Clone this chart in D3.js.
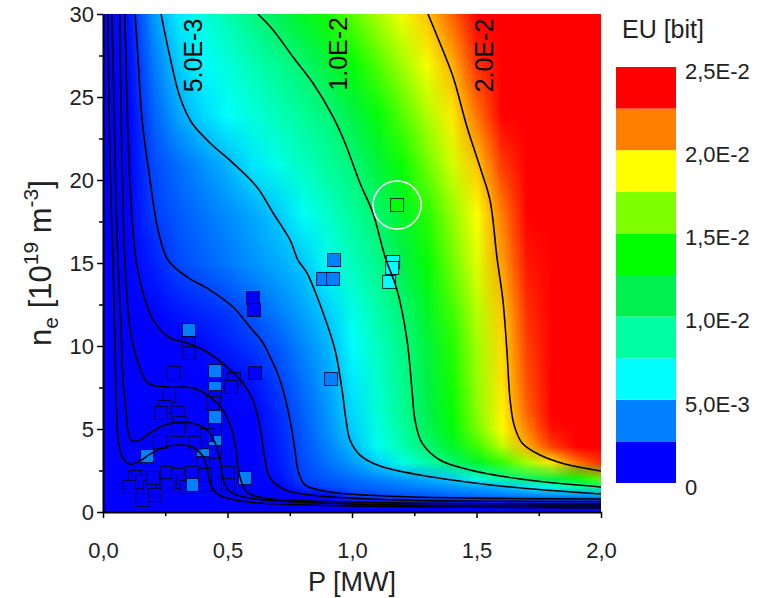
<!DOCTYPE html>
<html>
<head>
<meta charset="utf-8">
<script src="https://cdn.jsdelivr.net/npm/d3@7"></script>
<style>
  html, body { margin: 0; padding: 0; background: #fff; }
  svg { display: block; font-family: Arial, "Liberation Sans", sans-serif; }
</style>
</head>
<body>
<svg id="chart" width="759" height="598"></svg>
<script>
// ---- data ----

// EU map grid: P [MW] columns, ne [1e19 m^-3] rows (bottom to top)
var gridP = [0, 0.1, 0.2, 0.3, 0.4, 0.5, 0.6, 0.7, 0.8, 0.9, 1.0, 1.1, 1.2, 1.3, 1.4, 1.5, 1.6, 1.7, 1.8, 1.9, 2.0];
var gridNe = [0, 0.5, 1, 1.5, 2, 3, 4, 5, 6, 8, 10, 12, 15, 18, 21, 24, 27, 30];
// EU in units of 1e-3 bit, one row per gridNe value
var euGrid = [
  [0, 0, 0, 0, 0, 0, 0, 0, 0, 0, 0, 0, 0, 0, 0, 0, 0, 0, 0, 0, 0],
  [0, .03, .05, .06, .08, .1, .12, .14, .16, .19, .22, .25, .28, .31, .34, .37, .41, .45, .5, .55, .6],
  [0, .05, .06, .08, .1, .2, .56, .8, 1.05, 1.38, 2.4, 2.69, 2.9, 3.1, 3.3, 3.5, 3.7, 3.9, 4.1, 4.3, 4.6],
  [0, .06, .08, .1, .12, .31, .7, 1.17, 2.1, 2.69, 3.0, 3.3, 3.6, 3.9, 4.2, 4.5, 4.85, 5.7, 7.1, 8.6, 10.0],
  [0, .08, .09, .1, .13, .35, .75, 1.52, 2.5, 2.93, 3.35, 3.78, 4.2, 4.63, 5.25, 7.0, 8.8, 10.5, 11.8, 13.5, 15.5],
  [0, .13, .12, .12, .145, .45, .9, 1.72, 2.7, 3.5, 4.3, 5.3, 7.0, 8.6, 10.4, 12.6, 14.8, 17.0, 19.3, 21.5, 23.0],
  [0, .2, .22, .23, .28, .43, .9, 1.82, 2.84, 3.8, 4.9, 6.6, 8.4, 10.2, 12.4, 14.9, 17.4, 20.3, 22.5, 24.0, 25.0],
  [0, .3, .35, .4, .45, .57, 1.0, 1.93, 2.99, 4.08, 5.3, 7.05, 8.8, 10.9, 13.5, 16.0, 18.8, 21.2, 23.5, 25.0, 26.0],
  [0, .32, .4, .45, .52, .67, 1.16, 2.07, 3.12, 4.2, 5.5, 7.3, 9.1, 11.3, 13.8, 16.4, 19.0, 21.8, 24.0, 25.5, 26.5],
  [0, .36, .65, .85, 1.0, 1.15, 1.66, 2.47, 3.47, 4.47, 5.84, 7.6, 9.35, 11.6, 14.1, 16.7, 19.3, 22.2, 24.3, 25.8, 27.0],
  [0, .44, .8, 1.08, 1.4, 1.84, 2.28, 2.96, 3.87, 4.78, 6.3, 7.9, 9.6, 11.9, 14.4, 16.9, 19.5, 22.5, 24.5, 26.0, 27.0],
  [0, .58, 1.29, 1.6, 1.95, 2.3, 2.92, 3.65, 4.4, 5.25, 6.8, 8.4, 10.0, 12.5, 14.9, 17.3, 19.8, 22.8, 24.8, 26.0, 27.0],
  [0, .74, 1.84, 2.64, 3.1, 3.6, 4.1, 4.57, 5.1, 6.6, 8.0, 9.4, 11.4, 13.6, 15.9, 18.1, 20.6, 23.3, 25.0, 26.5, 27.5],
  [0, 1.0, 2.4, 2.98, 3.5, 4.0, 4.55, 5.2, 6.46, 7.7, 8.95, 10.3, 12.4, 14.5, 16.6, 18.7, 21.3, 23.8, 25.5, 27.0, 28.0],
  [0, 1.1, 2.65, 3.4, 4.1, 4.84, 5.8, 6.85, 7.9, 8.9, 10.0, 11.9, 13.9, 15.9, 17.9, 19.9, 22.6, 24.8, 26.3, 27.5, 28.5],
  [0, 1.25, 3.1, 4.5, 5.5, 6.4, 7.2, 8.1, 9.0, 9.9, 11.6, 13.5, 15.4, 17.2, 19.1, 21.5, 23.8, 25.5, 27.0, 28.0, 29.0],
  [0, 1.45, 3.6, 5.2, 6.2, 7.2, 8.2, 9.2, 10.3, 11.9, 13.6, 15.3, 16.9, 18.6, 20.3, 22.8, 24.8, 26.3, 27.5, 28.5, 29.5],
  [0, 1.6, 4.2, 5.9, 7.1, 8.4, 9.7, 11.1, 12.6, 14.1, 15.5, 17.0, 18.5, 19.9, 21.8, 24.0, 25.8, 27.0, 28.0, 29.0, 30.0]
];

// contour lines, [P, ne] pairs
var contour20e3 = [[1.305,30],[1.353,28.25],[1.406,26.2],[1.462,23.19],[1.514,20.78],[1.554,18.8],[1.582,15.36],[1.606,12.77],[1.622,9.76],[1.635,6.75],[1.651,5.24],[1.683,4.16],[1.755,3.43],[1.855,2.89],[2.0,2.47]];
var contour10e3 = [[.622,30],[.683,29.04],[.763,27.41],[.843,25.84],[.924,23.8],[.972,22.23],[1.032,19.82],[1.084,18.01],[1.133,15.36],[1.181,13.37],[1.221,10.36],[1.241,7.35],[1.253,5.54],[1.281,4.16],[1.353,3.13],[1.474,2.53],[1.675,1.99],[2.0,1.51]];
var contour5e3 = [[.233,30],[.269,27.41],[.309,25.0],[.357,23.43],[.43,22.23],[.522,21.02],[.618,19.58],[.683,18.01],[.751,16.39],[.783,15.18],[.819,14.4],[.884,11.99],[.932,9.76],[.96,7.35],[.976,5.54],[.992,4.34],[1.032,3.43],[1.112,2.77],[1.273,2.23],[1.594,1.57],[2.0,1.08]];
var contour25e4 = [[.129,30],[.141,27.23],[.157,23.61],[.189,20.0],[.221,16.99],[.261,15.18],[.337,14.16],[.43,13.37],[.522,12.35],[.59,11.14],[.643,10.18],[.671,9.34],[.699,8.43],[.723,7.35],[.751,5.54],[.771,3.73],[.783,2.53],[.811,1.63],[.912,1.2],[1.193,.93],[1.594,.82],[2.0,.78]];
var contour12e4 = [[.088,30],[.096,24.82],[.108,20.0],[.12,16.99],[.133,15.18],[.161,13.19],[.201,11.57],[.269,10.48],[.337,10.18],[.418,9.64],[.498,8.73],[.562,7.77],[.602,6.75],[.622,5.72],[.639,4.34],[.651,3.13],[.671,2.05],[.731,1.33],[.871,.96],[1.193,.72],[2.0,.63]];
var contour6e4 = [[.068,30],[.072,24.82],[.08,18.8],[.088,15.18],[.108,11.14],[.137,9.16],[.181,7.77],[.257,7.53],[.361,7.47],[.43,6.93],[.482,6.14],[.518,4.94],[.534,3.73],[.55,2.11],[.578,1.2],[.651,.84],[.992,.6],[2.0,.48]];
var contour3e4 = [[.036,30],[.044,24.82],[.052,18.8],[.06,15.18],[.072,11.14],[.08,8.13],[.092,6.14],[.1,4.94],[.116,4.28],[.149,4.34],[.189,4.76],[.249,5.24],[.309,5.42],[.369,5.3],[.418,4.94],[.45,4.16],[.47,3.13],[.482,2.05],[.502,1.33],[.55,.96],[.651,.72],[.992,.48],[2.0,.36]];
var contour15e5 = [[.02,30],[.024,24.82],[.032,18.8],[.04,15.18],[.048,10.18],[.056,5.54],[.064,4.04],[.08,3.25],[.108,2.89],[.149,3.07],[.189,3.49],[.249,3.92],[.309,4.04],[.357,3.92],[.398,3.43],[.418,2.65],[.43,1.81],[.45,1.2],[.51,.78],[.631,.54],[.992,.36],[2.0,.24]];

// labels written on the contours
var contourLabels = ['5.0E-3', '1.0E-2', '2.0E-2'];
var contourLabelP = [0.361, 0.944, 1.530];
var contourLabelNe = [27.5, 27.6, 27.5];

// measured shots: P, ne and their EU (1e-3 bit)
var shotP = [.928,.884,.924,.602,.606,.610,.916,1.165,1.161,1.149,1.181,.345,.345,.345,.285,.450,.450,.450,.450,.526,.514,.265,.249,.301,.233,.442,.450,.450,.450,.402,.402,.177,.309,.301,.229,.369,.418,.129,.108,.157,.189,.201,.257,.261,.301,.321,.337,.357,.361,.410,.410,.502,.502,.570,.157,.209];
var shotNe = [15.18,14.04,14.04,12.89,12.17,8.37,8.01,15.06,14.70,13.86,18.49,10.96,10.18,9.58,8.37,8.49,7.47,6.93,5.72,8.01,7.53,6.99,6.33,5.96,5.96,6.57,4.94,4.22,3.61,3.43,2.95,3.37,5.36,4.94,4.22,4.16,4.64,2.11,1.51,1.81,1.51,2.05,2.35,1.63,2.23,1.81,1.51,2.35,1.63,1.63,2.23,2.35,1.63,2.05,.72,1.02];
var shotEU = [4,4,4,1.5,1.5,1.5,4,6.5,6.5,6.5,13,4,1.5,1.5,1.5,4,4,1.5,4,1.5,1.5,1.5,1.5,1.5,1.5,1.5,1.5,4,1.5,4,1.5,4,1.5,1.5,1.5,1.5,1.5,1.5,1.5,1.5,1.5,1.5,1.5,1.5,1.5,1.5,1.5,1.5,4,1.5,1.5,1.5,1.5,4,1.5,1.5];
var circledShot = 10;

// colour scale bands
var bandEdges = [0, 0.0025, 0.005, 0.0075, 0.01, 0.0125, 0.015, 0.0175, 0.02, 0.0225, 0.025];
var bandColors = ['#0000ff', '#0080ff', '#00ffff', '#00ffa0', '#00f050', '#00ff00', '#80ff00', '#ffff00', '#ff8000', '#ff0000'];
var legendTicks = [0, 0.005, 0.01, 0.015, 0.02, 0.025];

var xTicks = [0, 0.5, 1.0, 1.5, 2.0];
var xMinor = [0.25, 0.75, 1.25, 1.75];
var yTicks = [0, 5, 10, 15, 20, 25, 30];
var yMinor = [2.5, 7.5, 12.5, 17.5, 22.5, 27.5];

// ---- layout ----
var margin = {left: 103, top: 14};
var W = 498, H = 498;

var svg = d3.select('#chart');
svg.append('rect').attr('width', 759).attr('height', 598).attr('fill', '#fff');

var x = d3.scaleLinear().domain([0, 2]).range([0, W]);
var y = d3.scaleLinear().domain([0, 30]).range([H, 0]);

var bandCenters = d3.pairs(bandEdges).map(function (e) { return (e[0] + e[1]) / 2; });
var heatColor = d3.scaleLinear().domain(bandCenters).range(bandColors).clamp(true);
var bandColor = d3.scaleThreshold().domain(bandEdges.slice(1, -1)).range(bandColors);

var g = svg.append('g').attr('transform', 'translate(' + margin.left + ',' + margin.top + ')');

svg.append('defs').append('clipPath').attr('id', 'plotClip')
  .append('rect').attr('width', W).attr('height', H);

// ---- EU map: one pixel per grid node, scaled up by the canvas ----
var src = document.createElement('canvas');
src.width = gridP.length;
src.height = gridNe.length;
var sctx = src.getContext('2d');
var img = sctx.createImageData(src.width, src.height);
euGrid.forEach(function (row, j) {
  var r = gridNe.length - 1 - j;
  row.forEach(function (v, i) {
    var c = d3.rgb(heatColor(v * 1e-3));
    var k = (r * src.width + i) * 4;
    img.data[k] = c.r; img.data[k + 1] = c.g; img.data[k + 2] = c.b; img.data[k + 3] = 255;
  });
});
sctx.putImageData(img, 0, 0);

var map = document.createElement('canvas');
map.width = W;
map.height = H;
var mctx = map.getContext('2d');
mctx.imageSmoothingEnabled = true;
var sx = W / (gridP.length - 1);
for (var j = 0; j < gridNe.length - 1; j++) {
  var yLo = Math.round(y(gridNe[j]));
  var yHi = Math.round(y(gridNe[j + 1]));
  var rowHi = gridNe.length - 2 - j;
  var sy = yLo - yHi;
  mctx.save();
  mctx.beginPath();
  mctx.rect(0, yHi, W, sy);
  mctx.clip();
  mctx.setTransform(sx, 0, 0, sy, -0.5 * sx, yHi - (rowHi + 0.5) * sy);
  mctx.drawImage(src, 0, 0);
  mctx.restore();
}

g.append('image')
  .attr('width', W).attr('height', H)
  .attr('preserveAspectRatio', 'none')
  .attr('href', map.toDataURL());

// ---- shots ----
var sq = 13;
var shots = d3.range(shotP.length);
g.append('g').attr('clip-path', 'url(#plotClip)')
  .selectAll('rect').data(shots).enter().append('rect')
  .attr('x', function (i) { return x(shotP[i]) - sq / 2; })
  .attr('y', function (i) { return y(shotNe[i]) - sq / 2; })
  .attr('width', sq).attr('height', sq)
  .attr('fill', function (i) { return bandColor(shotEU[i] * 1e-3); })
  .attr('stroke', '#000028').attr('stroke-opacity', 0.85).attr('stroke-width', 1);

// ---- contour lines ----
var line = d3.line()
  .x(function (d) { return x(d[0]); })
  .y(function (d) { return y(d[1]); })
  .curve(d3.curveCatmullRom.alpha(0.5));

var contours = [contour20e3, contour10e3, contour5e3, contour25e4, contour12e4, contour6e4, contour3e4, contour15e5];
g.append('g').attr('clip-path', 'url(#plotClip)')
  .selectAll('path').data(contours).enter().append('path')
  .attr('d', line)
  .attr('fill', 'none').attr('stroke', '#000').attr('stroke-width', 1.6);

g.selectAll('text.clabel').data(contourLabels).enter().append('text')
  .attr('class', 'clabel')
  .attr('transform', function (d, i) {
    return 'translate(' + x(contourLabelP[i]) + ',' + y(contourLabelNe[i]) + ') rotate(-90)';
  })
  .attr('text-anchor', 'middle').attr('dy', '0.36em')
  .attr('font-size', 25).attr('fill', '#000')
  .text(function (d) { return d; });

// circle round the marked shot
g.append('circle')
  .attr('cx', x(shotP[circledShot])).attr('cy', y(shotNe[circledShot]))
  .attr('r', 24).attr('fill', 'none').attr('stroke', '#fff').attr('stroke-width', 1.5);

// ---- axes ----
var comma = function (f) { return function (d) { return f(d).replace('.', ','); }; };

g.append('g').attr('transform', 'translate(0,' + H + ')')
  .call(d3.axisBottom(x).tickValues(xTicks).tickSize(6).tickSizeOuter(0).tickPadding(24)
    .tickFormat(comma(d3.format('.1f'))));
g.append('g').attr('transform', 'translate(0,' + H + ')')
  .call(d3.axisBottom(x).tickValues(xMinor).tickSize(4).tickSizeOuter(0).tickFormat(''))
  .select('.domain').remove();

g.append('g')
  .call(d3.axisLeft(y).tickValues(yTicks).tickSize(6).tickSizeOuter(0).tickPadding(3));
g.append('g')
  .call(d3.axisLeft(y).tickValues(yMinor).tickSize(4).tickSizeOuter(0).tickFormat(''))
  .select('.domain').remove();

svg.selectAll('.domain').attr('stroke', '#000').attr('stroke-width', 2);
svg.selectAll('.tick line').attr('stroke', '#000').attr('stroke-width', 1.5);
svg.selectAll('.tick text').attr('font-size', 22).attr('fill', '#222')
  .attr('font-family', 'Arial, "Liberation Sans", sans-serif');

// axis titles
svg.append('text')
  .attr('x', margin.left + W / 2).attr('y', 591)
  .attr('text-anchor', 'middle').attr('font-size', 27).attr('fill', '#222')
  .text('P [MW]');

var yTitle = svg.append('text')
  .attr('transform', 'translate(51,' + (margin.top + H / 2) + ') rotate(-90)')
  .attr('text-anchor', 'middle').attr('font-size', 31).attr('fill', '#222');
yTitle.append('tspan').text('n');
yTitle.append('tspan').attr('font-size', 21).attr('dy', 7).text('e');
yTitle.append('tspan').attr('dy', -7).text(' [10');
yTitle.append('tspan').attr('font-size', 21).attr('dy', -13).text('19');
yTitle.append('tspan').attr('dy', 13).text(' m');
yTitle.append('tspan').attr('font-size', 21).attr('dy', -13).text('-3');
yTitle.append('tspan').attr('dy', 13).text(']');

// ---- colour legend ----
var cb = {x: 616, w: 60, top: 67, bottom: 483};
var cbY = d3.scaleLinear().domain([0, 0.025]).range([cb.bottom, cb.top]);

svg.append('g').selectAll('rect').data(bandColors).enter().append('rect')
  .attr('x', cb.x).attr('width', cb.w)
  .attr('y', function (d, i) { return cbY(bandEdges[i + 1]); })
  .attr('height', function (d, i) { return cbY(bandEdges[i]) - cbY(bandEdges[i + 1]); })
  .attr('fill', function (d) { return d; });

var sci = function (d) {
  if (d === 0) return '0';
  return d3.format('.1e')(d).replace('.', ',').replace('e', 'E').replace('E-0', 'E-');
};
svg.append('g').selectAll('text').data(legendTicks).enter().append('text')
  .attr('x', 685).attr('y', function (d) { return cbY(d) + 4; })
  .attr('dy', '0.35em').attr('font-size', 22).attr('fill', '#222')
  .text(sci);

svg.append('text')
  .attr('x', 622).attr('y', 38)
  .attr('font-size', 25).attr('fill', '#222')
  .text('EU [bit]');
</script>
</body>
</html>
